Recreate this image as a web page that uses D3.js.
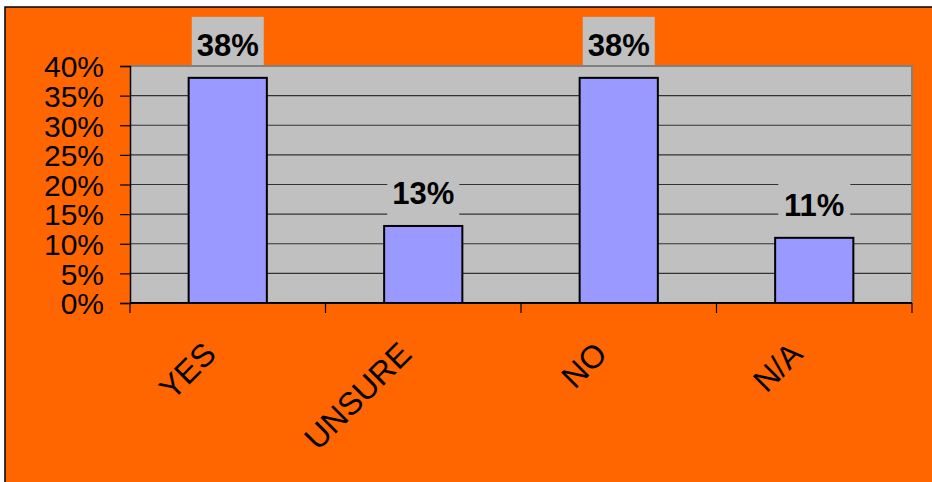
<!DOCTYPE html>
<html>
<head>
<meta charset="utf-8">
<script src="https://cdn.jsdelivr.net/npm/d3@7"></script>
<style>
    html, body { margin: 0; padding: 0; background: #ffffff; }
    svg { display: block; font-family: Arial, "Liberation Sans", sans-serif; }
</style>
</head>
<body>
<div id="chart"></div>
<script>
var categories = ["YES", "UNSURE", "NO", "N/A"];
var values = [0.38, 0.13, 0.38, 0.11];
var valueLabels = ["38%", "13%", "38%", "11%"];
var yTicks = [0, 0.05, 0.10, 0.15, 0.20, 0.25, 0.30, 0.35, 0.40];

var W = 932, H = 482;
var plot = {left: 130, right: 912, top: 66, bottom: 303};

var svg = d3.select("#chart").append("svg")
    .attr("width", W)
    .attr("height", H);

// orange frame, only top and left edge are in view
svg.append("rect")
    .attr("x", 5).attr("y", 7)
    .attr("width", W + 10).attr("height", H + 10)
    .attr("fill", "#ff6600")
    .attr("stroke", "#000")
    .attr("stroke-width", 1.5);

var x = d3.scaleBand()
    .domain(categories)
    .range([plot.left, plot.right])
    .paddingInner(0.6)
    .paddingOuter(0.3);

// category slots, used for the tick marks between categories
var slot = d3.scaleBand()
    .domain(categories)
    .range([plot.left, plot.right]);

var y = d3.scaleLinear()
    .domain([0, 0.40])
    .range([plot.bottom, plot.top]);

// plot area
svg.append("rect")
    .attr("x", plot.left).attr("y", plot.top)
    .attr("width", plot.right - plot.left)
    .attr("height", plot.bottom - plot.top)
    .attr("fill", "#c0c0c0");

// gridlines
svg.append("g")
    .attr("class", "grid")
    .selectAll("line")
    .data(yTicks.filter(function (d) { return d > 0 && d < 0.40; }))
    .enter().append("line")
    .attr("x1", plot.left).attr("x2", plot.right)
    .attr("y1", function (d) { return y(d); })
    .attr("y2", function (d) { return y(d); })
    .attr("stroke", "#333")
    .attr("stroke-width", 1.2);

// bars
svg.append("g")
    .attr("class", "bars")
    .selectAll("rect")
    .data(values)
    .enter().append("rect")
    .attr("x", function (d, i) { return x(categories[i]); })
    .attr("y", function (d) { return y(d); })
    .attr("width", x.bandwidth())
    .attr("height", function (d) { return y(0) - y(d); })
    .attr("fill", "#9999ff")
    .attr("stroke", "#000")
    .attr("stroke-width", 2);

// data labels with gray box
var lab = svg.append("g")
    .attr("class", "labels")
    .selectAll("g")
    .data(values)
    .enter().append("g")
    .attr("transform", function (d, i) {
        return "translate(" + (x(categories[i]) + x.bandwidth() / 2) + "," + (y(d) - 4) + ")";
    });

lab.append("rect")
    .attr("x", -36).attr("y", -57)
    .attr("width", 72).attr("height", 57)
    .attr("fill", "#c0c0c0");

lab.append("text")
    .attr("x", 0).attr("y", -18)
    .attr("text-anchor", "middle")
    .attr("font-size", 31)
    .attr("font-weight", "bold")
    .attr("fill", "#000")
    .text(function (d, i) { return valueLabels[i]; });

// plot border (top and right)
svg.append("path")
    .attr("d", "M" + plot.left + "," + plot.top + "H" + plot.right + "V" + plot.bottom)
    .attr("fill", "none")
    .attr("stroke", "#808080")
    .attr("stroke-width", 2);

// y axis
var yAxis = d3.axisLeft(y)
    .tickValues(yTicks)
    .tickFormat(d3.format(".0%"))
    .tickSize(10)
    .tickPadding(16);

var gy = svg.append("g")
    .attr("transform", "translate(" + plot.left + ",0)")
    .call(yAxis);
gy.select(".domain").attr("stroke", "#000").attr("stroke-width", 1.5);
gy.selectAll(".tick line").attr("stroke", "#000").attr("stroke-width", 1.2);
gy.selectAll(".tick text")
    .attr("font-size", 30)
    .attr("font-family", "Arial, 'Liberation Sans', sans-serif")
    .attr("fill", "#000")
    .attr("dy", "0.36em");

// x axis line + boundary ticks
var gx = svg.append("g").attr("class", "x-axis");
gx.append("line")
    .attr("x1", plot.left).attr("x2", plot.right)
    .attr("y1", plot.bottom).attr("y2", plot.bottom)
    .attr("stroke", "#000").attr("stroke-width", 2);

var bounds = categories.map(function (c) { return slot(c); }).concat([plot.right]);
gx.selectAll("line.tk")
    .data(bounds)
    .enter().append("line")
    .attr("class", "tk")
    .attr("x1", function (d) { return d; })
    .attr("x2", function (d) { return d; })
    .attr("y1", plot.bottom).attr("y2", plot.bottom + 10)
    .attr("stroke", "#000").attr("stroke-width", 1.2);

// rotated category labels
gx.selectAll("text")
    .data(categories)
    .enter().append("text")
    .attr("transform", function (d) {
        var cx = slot(d) + slot.bandwidth() / 2 - 10;
        return "translate(" + cx + ",356) rotate(-45)";
    })
    .attr("text-anchor", "end")
    .attr("font-size", 32)
    .attr("fill", "#000")
    .text(function (d) { return d; });
</script>
</body>
</html>
